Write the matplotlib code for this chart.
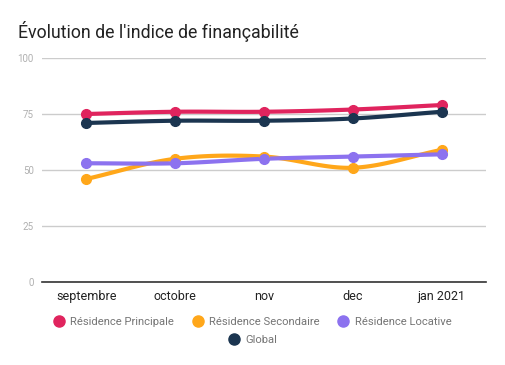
import numpy as np
import matplotlib
matplotlib.use("Agg")
import matplotlib.pyplot as plt
from matplotlib.lines import Line2D

plt.rcParams['font.family'] = ['Roboto', 'DejaVu Sans']

# données
mois = ['septembre', 'octobre', 'nov', 'dec', 'jan 2021']
principale = [75, 76, 76, 77, 79]
secondaire = [46, 55, 56, 51, 59]
locative = [53, 53, 55, 56, 57]
global_ = [71, 72, 72, 73, 76]

series = [
    ('Résidence Principale', principale, '#E0245E'),
    ('Résidence Secondaire', secondaire, '#FFA71A'),
    ('Résidence Locative', locative, '#8C72EF'),
    ('Global', global_, '#1B3550'),
]


def courbe(y, n=30):
    # lissage cubique (Hermite) entre les points, comme curveType 'function'
    y = np.asarray(y, dtype=float)
    x = np.arange(len(y), dtype=float)
    m = np.zeros_like(y)
    m[1:-1] = (y[2:] - y[:-2]) / 2
    m[0] = y[1] - y[0]
    m[-1] = y[-1] - y[-2]
    xs, ys = [], []
    for i in range(len(y) - 1):
        t = np.linspace(0, 1, n)
        h00 = 2 * t**3 - 3 * t**2 + 1
        h10 = t**3 - 2 * t**2 + t
        h01 = -2 * t**3 + 3 * t**2
        h11 = t**3 - t**2
        xs.append(x[i] + t)
        ys.append(h00 * y[i] + h10 * m[i] + h01 * y[i + 1] + h11 * m[i + 1])
    return np.concatenate(xs), np.concatenate(ys)


fig = plt.figure(figsize=(5.05, 3.65), dpi=100)
ax = fig.add_axes([42 / 505, 1 - 282 / 365, 444 / 505, 224 / 365])

x = np.arange(len(mois))
for nom, vals, col in series:
    cx, cy = courbe(vals)
    ax.plot(cx, cy, color=col, lw=3, solid_capstyle='round', zorder=3)
    ax.plot(x, vals, 'o', color=col, ms=7, zorder=4)

ax.set_xlim(-0.5, len(mois) - 0.5)
ax.set_ylim(0, 100)
ax.set_yticks([0, 25, 50, 75, 100])
ax.set_xticks(x)
ax.set_xticklabels(mois, fontsize=9, color='#222222')
ax.tick_params(axis='y', labelsize=7, colors='#b0b0b0', length=0, pad=6)
ax.tick_params(axis='x', length=0, pad=6)
ax.grid(axis='y', color='#cccccc', lw=1)
ax.set_axisbelow(True)
for s in ['top', 'right', 'left']:
    ax.spines[s].set_visible(False)
ax.spines['bottom'].set_color('#333333')
ax.spines['bottom'].set_linewidth(1.2)

fig.text(18 / 505, 1 - 38 / 365, "Évolution de l'indice de finançabilité",
         fontsize=12.8, color='#222222', ha='left', va='baseline')

handles = [Line2D([], [], marker='o', ls='', color=c, ms=8, label=n) for n, v, c in series]
leg1 = fig.legend(handles=handles[:3], loc='center', ncol=3,
                  bbox_to_anchor=(0.5, 1 - 322 / 365), frameon=False,
                  fontsize=8.1, labelcolor='#757575', handletextpad=0.5,
                  columnspacing=1.6, handlelength=1)
leg2 = fig.legend(handles=handles[3:], loc='center', ncol=1,
                  bbox_to_anchor=(0.5, 1 - 340 / 365), frameon=False,
                  fontsize=8.1, labelcolor='#757575', handletextpad=0.5,
                  handlelength=1)

fig.savefig('out.png', dpi=100)
